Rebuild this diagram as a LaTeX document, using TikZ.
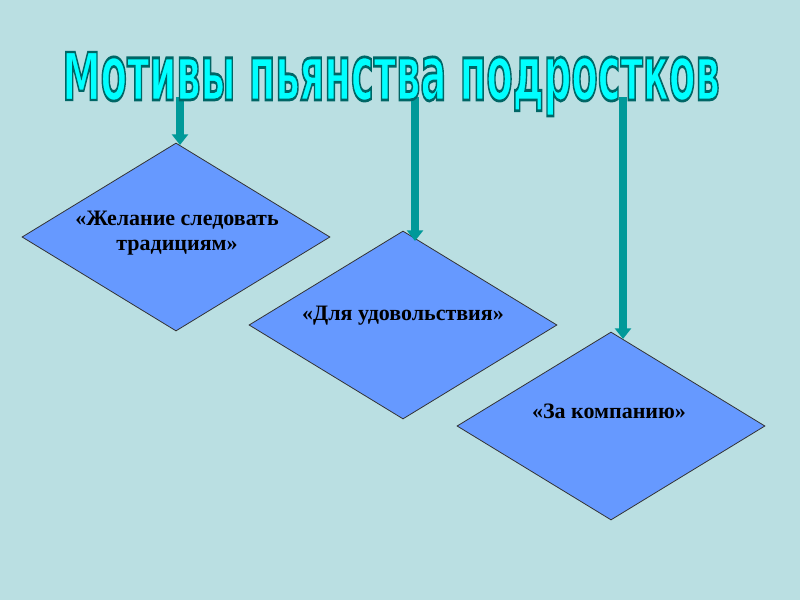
\documentclass[tikz,border=0pt]{standalone}
\usepackage{fontspec}
\setmainfont{Liberation Serif}
\newfontfamily\titlefont{DejaVu Sans}
\usepackage{graphicx}
\usetikzlibrary{shapes.geometric,arrows.meta}
\definecolor{bgc}{HTML}{BADFE2}
\definecolor{dfill}{HTML}{6699FF}
\definecolor{arrc}{HTML}{009999}
\definecolor{ttlc}{HTML}{00FFFF}
\newcommand{\outlinetext}[1]{\special{pdf:literal direct 2 Tr 0 0.4 0.4 RG 0.36 w}#1\special{pdf:literal direct 0 Tr}}
\tikzset{
  motive/.style={diamond, draw=black!80, line width=0.6pt, fill=dfill, inner sep=0pt,
    minimum width=231pt, minimum height=141pt},
  mtext/.style={font=\fontsize{16.5}{19}\selectfont\bfseries, align=center, text=black},
  pointer/.style={draw=arrc, line width=6pt, -{Triangle[length=8pt 0 0, width=12pt 0 0]}},
}
\begin{document}
\begin{tikzpicture}[x=0.75pt,y=-0.75pt]
\useasboundingbox[fill=bgc] (0,0) rectangle (800,600);
% diamonds
\node[motive] (d1) at (176,237) {};
\node[motive] (d2) at (403,325) {};
\node[motive] (d3) at (611,426) {};
\node[mtext] (t1) at (177,233) {«Желание следовать\\традициям»};
\node[mtext] (t2) at (403,316) {«Для удовольствия»};
\node[mtext] (t3) at (609,411) {«За компанию»};
% arrows
\coordinate (s1) at (180,97);
\coordinate (s2) at (415,97);
\coordinate (s3) at (623,97);
\coordinate (e1) at (180,145);
\coordinate (e2) at (415,241);
\coordinate (e3) at (623,339);
\draw[pointer] (s1) -- (e1);
\draw[pointer] (s2) -- (e2);
\draw[pointer] (s3) -- (e3);
% title
\node[inner sep=0pt, anchor=base] (title) at (391,100)
  {\resizebox{493pt}{36pt}{\titlefont\bfseries\color{ttlc}\outlinetext{М\scalebox{1}[1.17]{отивы пьянства подростков}}}};
\end{tikzpicture}
\end{document}
